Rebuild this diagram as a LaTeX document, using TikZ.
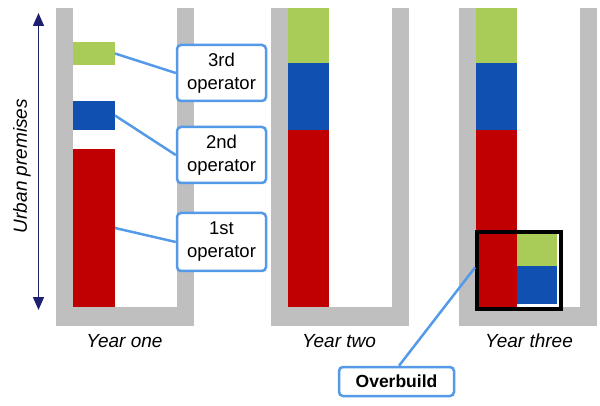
\documentclass[tikz,border=0pt]{standalone}
\usepackage{fontspec}
\setmainfont{Liberation Sans}
\usetikzlibrary{arrows.meta}
\definecolor{wallgray}{HTML}{BFBFBF}
\definecolor{opred}{HTML}{C00000}
\definecolor{opblue}{HTML}{1050B0}
\definecolor{opgreen}{HTML}{A9CC58}
\definecolor{callblue}{HTML}{559AE8}
\definecolor{axisnavy}{HTML}{1F1F70}
\tikzset{
  wall/.style={fill=wallgray, draw=none},
  bar/.style={draw=none, inner sep=0pt, outer sep=0pt, anchor=north west},
  callout/.style={draw=callblue, line width=2.5pt, rounded corners=4pt, fill=white,
     align=center, inner sep=0pt, font=\fontsize{18.5}{23}\selectfont},
  link/.style={draw=callblue, line width=2.5pt},
  yearlabel/.style={font=\fontsize{19}{22}\selectfont\itshape, anchor=base, inner sep=0pt},
}
\begin{document}
\begin{tikzpicture}[x=1pt, y=-1pt]
\useasboundingbox (0,0) rectangle (600,406);
% containers
\foreach \xl in {56,270.5,459}{
  \fill[wallgray] (\xl,8) rectangle (\xl+17,326);
  \fill[wallgray] (\xl+121,8) rectangle (\xl+138,326);
  \fill[wallgray] (\xl,307) rectangle (\xl+138,326);
}
% year one bars
\node[bar, fill=opgreen, minimum width=42pt, minimum height=23pt] (g1) at (73,42) {};
\node[bar, fill=opblue, minimum width=42pt, minimum height=29pt] (b1) at (73,101) {};
\node[bar, fill=opred, minimum width=42pt, minimum height=158pt] (r1) at (73,149) {};
% year two bars
\node[bar, fill=opgreen, minimum width=41pt, minimum height=55pt] (g2) at (287.5,8) {};
\node[bar, fill=opblue, minimum width=41pt, minimum height=67pt] (b2) at (287.5,63) {};
\node[bar, fill=opred, minimum width=41pt, minimum height=177pt] (r2) at (287.5,130) {};
% year three bars
\node[bar, fill=opgreen, minimum width=41pt, minimum height=55pt] (g3) at (476,8) {};
\node[bar, fill=opblue, minimum width=41pt, minimum height=67pt] (b3) at (476,63) {};
\node[bar, fill=opred, minimum width=41pt, minimum height=177pt] (r3) at (476,130) {};
% overbuild inner
\fill[white] (517,230) rectangle (559,307);
\node[bar, fill=opgreen, minimum width=40pt, minimum height=36pt] (g4) at (517,230) {};
\node[bar, fill=opblue, minimum width=40pt, minimum height=38pt] (b4) at (517,266) {};
\node[draw=black, line width=4pt, minimum width=84pt, minimum height=77pt, inner sep=0pt, anchor=north west] (obox) at (475,230) {};
% axis
\draw[axisnavy, line width=1.5pt, {Triangle[length=13pt,width=11pt]}-{Triangle[length=13pt,width=11pt]}] (38.5,13) coordinate (atop) -- (38.5,310) coordinate (abot);
\node[rotate=90, anchor=base, inner sep=0pt, font=\fontsize{19}{22}\selectfont\itshape] (axlabel) at (27,166) {Urban premises};
% callouts
\node[callout, minimum width=89pt, minimum height=56pt] (op3) at (221.5,73) {3rd\\operator};
\node[callout, minimum width=89pt, minimum height=56pt] (op2) at (221.5,155) {2nd\\operator};
\node[callout, minimum width=89pt, minimum height=58pt] (op1) at (221.5,242) {1st\\operator};
\node[callout, minimum width=115pt, minimum height=29pt, font=\fontsize{17.5}{20}\selectfont\bfseries] (ob) at (396.5,381.5) {Overbuild};
\draw[link] (g1.east) -- (op3.west);
\draw[link] (b1.east) -- (op2.west);
\draw[link] (r1.east) -- (op1.west);
\draw[link] ([xshift=2.5pt]ob.north) -- ([yshift=3pt]obox.west);
% year labels
\node[yearlabel] (y1) at (124.5,347) {Year one};
\node[yearlabel] (y2) at (339,347) {Year two};
\node[yearlabel] (y3) at (529,347) {Year three};
\end{tikzpicture}
\end{document}
